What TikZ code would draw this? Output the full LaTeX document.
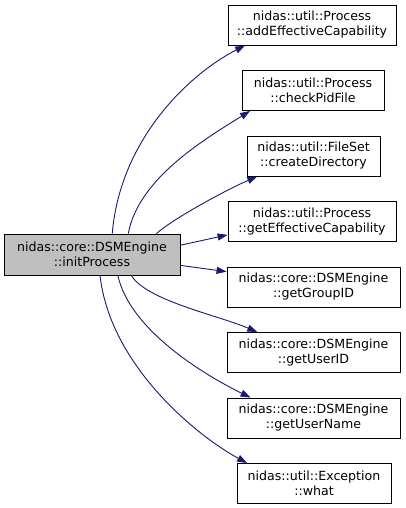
\documentclass[tikz,border=0pt]{standalone}
\usepackage{fontspec}
\setmainfont{DejaVu Sans}
\usetikzlibrary{arrows.meta}
\definecolor{edgeblue}{HTML}{191970}
\definecolor{maingray}{HTML}{BFBFBF}
\begin{document}
\begin{tikzpicture}[x=1pt,y=1pt,
  fn/.style={draw=black, line width=0.9pt, fill=white, align=center,
    minimum height=40pt, inner sep=0pt, font=\fontsize{12.6}{15}\selectfont},
  mainfn/.style={fn, fill=maingray, minimum height=41pt},
  edge/.style={draw=edgeblue, line width=0.9pt, -{Triangle[length=10pt,width=7pt]}}]
\useasboundingbox (0,0) rectangle (405,-508);
\node[mainfn, minimum width=176pt] (main) at (92,-254.5) {nidas::core::DSMEngine\\::initProcess};
\node[fn, minimum width=168pt] (n1) at (312,-25) {nidas::util::Process\\::addEffectiveCapability};
\node[fn, minimum width=142pt] (n2) at (313,-90.5) {nidas::util::Process\\::checkPidFile};
\node[fn, minimum width=133pt] (n3) at (313.5,-156) {nidas::util::FileSet\\::createDirectory};
\node[fn, minimum width=168pt] (n4) at (312,-221.5) {nidas::util::Process\\::getEffectiveCapability};
\node[fn, minimum width=173pt] (n5) at (313.5,-287) {nidas::core::DSMEngine\\::getGroupID};
\node[fn, minimum width=173pt] (n6) at (313.5,-352.5) {nidas::core::DSMEngine\\::getUserID};
\node[fn, minimum width=173pt] (n7) at (313.5,-418) {nidas::core::DSMEngine\\::getUserName};
\node[fn, minimum width=154pt] (n8) at (314,-483.5) {nidas::util::Exception\\::what};
\draw[edge] (main.46) .. controls +(8,95) and +(-55,-28) .. (n1.197);
\draw[edge] (main.30) .. controls +(10,55) and +(-45,-28) .. (n2.198);
\draw[edge] (main.18) .. controls +(18,16) and +(-28,-12) .. (n3.200);
\draw[edge] (main.6) -- (n4.189);
\draw[edge] (main.-7) -- (n5.170);
\draw[edge] (main.-28) .. controls +(15,-25) and +(-40,17) .. (n6.160);
\draw[edge] (main.-39) .. controls +(12,-55) and +(-45,22) .. (n7.162);
\draw[edge] (main.-69) .. controls +(10,-90) and +(-50,27) .. (n8.163);
\end{tikzpicture}
\end{document}
